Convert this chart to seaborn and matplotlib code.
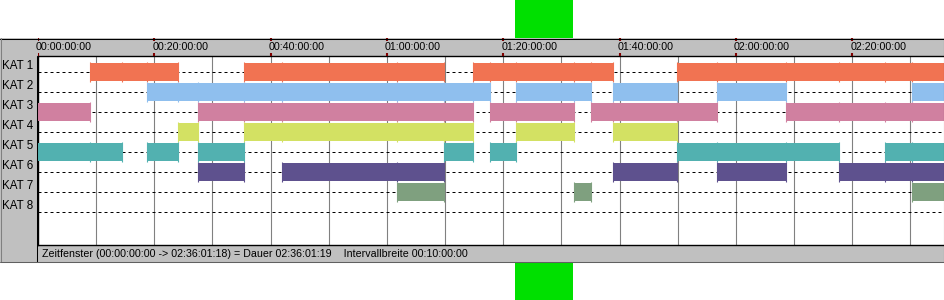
import matplotlib
matplotlib.use("Agg")
import matplotlib.pyplot as plt
import matplotlib.transforms as mtransforms
from matplotlib.patches import Rectangle
from matplotlib.lines import Line2D
import numpy as np
import pandas as pd
import seaborn as sns

# ---------------- data (minutes from window start) ----------------
categories = ["KAT 1", "KAT 2", "KAT 3", "KAT 4", "KAT 5", "KAT 6", "KAT 7", "KAT 8"]
window_end = 156.02  # 02:36:01:19

kat1_start = [8.9, 35.5, 74.8, 109.9]
kat1_end = [24.0, 69.8, 98.9, 156.02]
kat2_start = [18.7, 82.2, 98.9, 116.7, 150.3]
kat2_end = [77.7, 95.0, 109.9, 128.6, 156.02]
kat3_start = [0.0, 27.5, 77.7, 95.0, 128.6]
kat3_end = [8.9, 74.8, 92.2, 116.7, 156.02]
kat4_start = [24.0, 35.5, 82.2, 98.9]
kat4_end = [27.5, 74.8, 92.2, 109.9]
kat5_start = [0.0, 18.7, 27.5, 69.8, 77.7, 109.9, 145.7]
kat5_end = [14.4, 24.0, 35.5, 74.8, 82.2, 137.7, 156.02]
kat6_start = [27.5, 42.0, 98.9, 116.7, 137.7]
kat6_end = [35.5, 69.8, 109.9, 128.6, 156.02]
kat7_start = [61.7, 92.2, 150.3]
kat7_end = [69.8, 95.0, 156.02]
kat8_start = []
kat8_end = []

cat_colors = ["#F17352", "#8FBFEE", "#D080A0", "#D3E163",
              "#52B1B0", "#5E518E", "#7FA07F", "#A0A0A0"]

grid_ticks = list(range(10, 156, 10))
label_ticks = [0, 20, 40, 60, 80, 100, 120, 140]
tick_labels = ["00:00:00:00", "00:20:00:00", "00:40:00:00", "01:00:00:00",
               "01:20:00:00", "01:40:00:00", "02:00:00:00", "02:20:00:00"]
status_text = ("Zeitfenster (00:00:00:00 -> 02:36:01:18) = Dauer 02:36:01:19"
               "    Intervallbreite 00:10:00:00")

starts = [kat1_start, kat2_start, kat3_start, kat4_start,
          kat5_start, kat6_start, kat7_start, kat8_start]
ends = [kat1_end, kat2_end, kat3_end, kat4_end,
        kat5_end, kat6_end, kat7_end, kat8_end]
rows = []
for i, cat in enumerate(categories):
    for s, e in zip(starts[i], ends[i]):
        rows.append({"cat": cat, "row": i, "start": s, "end": e, "color": cat_colors[i]})
df = pd.DataFrame(rows)

# ---------------- style ----------------
sns.set_theme(style="white")
plt.rcParams["font.family"] = ["Liberation Sans", "DejaVu Sans"]

W, H = 945, 300
fig = plt.figure(figsize=(W / 100, H / 100), dpi=100)
fig.patch.set_facecolor("white")


def fx(x):
    return x / W


def fy(y):
    return 1 - y / H


# green marker band behind the panel
fig.add_artist(Rectangle((fx(515.5), 0), (573 - 515.5) / W, 1,
                         transform=fig.transFigure, facecolor="#00E000",
                         edgecolor="none", zorder=0.1))
# gray panel
fig.add_artist(Rectangle((0, fy(262)), 1, (262 - 38) / H,
                         transform=fig.transFigure, facecolor="#C0C0C0",
                         edgecolor="none", zorder=0.2))

# ---------------- main plot ----------------
ax = fig.add_axes([fx(38), fy(245), (945.5 - 38) / W, (245 - 56) / H])
ax.set_zorder(1)
ax.set_facecolor("white")
ax.set_xlim(0, window_end)
ax.set_ylim(len(categories) - 1 + 1.65, -0.8)

ax.set_xticks(grid_ticks)
ax.set_yticks([])
ax.tick_params(axis="x", length=0, labelbottom=False)
ax.grid(axis="x", color="#808080", lw=0.8)
ax.set_axisbelow(True)
for side in ["top", "bottom", "left"]:
    ax.spines[side].set_color("black")
    ax.spines[side].set_linewidth(1.0)
ax.spines["right"].set_visible(False)

# dashed row guides
ax.hlines(range(len(categories)), 0, window_end, colors="black",
          linestyles=(0, (3, 3)), lw=0.72, zorder=2)

# bars
ax.barh(df["row"], df["end"] - df["start"], left=df["start"], height=0.9,
        color=df["color"], edgecolor="none", zorder=3)

# segment boundary ticks
bounds = sorted(set(df["start"]).union(df["end"]) - {0.0, window_end})
for _, r in df.iterrows():
    inside = [b for b in bounds if r["start"] - 1e-6 <= b <= r["end"] + 1e-6]
    ax.vlines(inside, r["row"] - 0.5, r["row"] + 0.5, colors=r["color"],
              lw=0.8, zorder=4)

# category labels in the left column
lab_tr = mtransforms.offset_copy(
    mtransforms.blended_transform_factory(fig.transFigure, ax.transData),
    fig=fig, x=0, y=6, units="dots")
for i, cat in enumerate(categories):
    ax.text(fx(2.5), i, cat, transform=lab_tr, ha="left", va="center",
            fontsize=8.4, color="black", clip_on=False)

# ---------------- header ----------------
hax = fig.add_axes([fx(38), fy(56), (945.5 - 38) / W, 18 / H])
hax.set_zorder(1)
hax.set_xlim(0, window_end)
hax.set_ylim(1, 0)
hax.axis("off")
hax.vlines(label_ticks, 0, 3 / 18, colors="#800000", lw=1.5)
hax.vlines(label_ticks, 15 / 18, 1, colors="#800000", lw=1.5)
htr = mtransforms.offset_copy(hax.transData, fig=fig, x=-2, y=-0.5, units="dots")
for t, lab in zip(label_ticks, tick_labels):
    hax.text(t, 0.5, lab, transform=htr, ha="left", va="center",
             fontsize=7.7, color="black")

# ---------------- frame lines ----------------
def fline(x0, y0, x1, y1, color="black", lw=0.75):
    fig.add_artist(Line2D([fx(x0), fx(x1)], [fy(y0), fy(y1)],
                          transform=fig.transFigure, color=color, lw=lw, zorder=5))


fline(0, 38.5, 945, 38.5)
fline(37.5, 56, 37.5, 262)
fline(944.5, 38, 944.5, 262)
fline(0.5, 38, 0.5, 262, color="#808080")
fline(0, 262, 945, 262, color="#606060")

# ---------------- status bar ----------------
fig.text(fx(42), fy(254), status_text, ha="left", va="center",
         fontsize=7.7, color="black")

fig.savefig("out.png", dpi=100)
